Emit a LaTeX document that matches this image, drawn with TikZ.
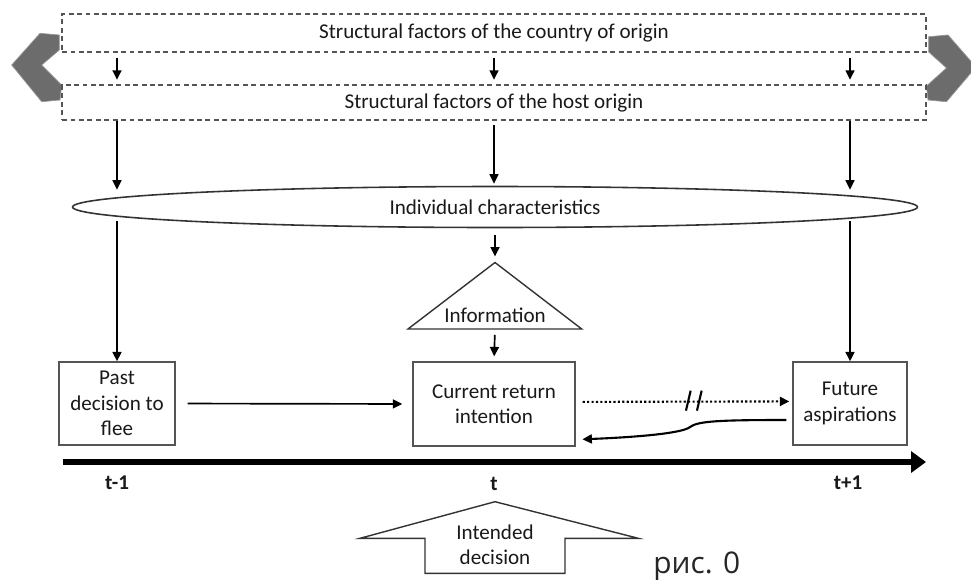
\documentclass[tikz,border=0pt]{standalone}
\usepackage{fontspec}
\setmainfont{Carlito}
\newfontfamily\rusfont{Open Sans}
\usepackage{xcolor}
\definecolor{edge}{RGB}{85,85,85}
\definecolor{chevgray}{RGB}{108,108,108}
\definecolor{ink}{RGB}{25,25,25}
\usetikzlibrary{shapes.geometric,arrows.meta,positioning,calc}
\tikzset{
  fc_frame/.style={rectangle,draw=edge,line width=0.75pt,dash pattern=on 2.8pt off 2pt,
    minimum width=17.28cm,inner sep=0pt,text=ink,font=\fontsize{12}{14.4}\selectfont},
  fc_box/.style={rectangle,draw=edge,line width=0.8pt,align=center,inner sep=2pt,
    text=ink,font=\fontsize{12}{14.4}\selectfont},
  fc_ell/.style={ellipse,draw=black!80,line width=0.9pt,minimum width=16.9cm,
    minimum height=0.82cm,inner sep=0pt,text=ink,font=\fontsize{12}{14.4}\selectfont},
  fc_tick/.style={inner sep=1pt,text=ink,font=\fontsize{12}{14.4}\selectfont\bfseries},
  fc_shape/.style={draw=black!80,line width=0.8pt,fill=white},
  chev/.style={fill=chevgray,draw=chevgray!70,line width=0.4pt},
  arr/.style={-{Triangle[length=1.9mm,width=1.8mm]},line width=0.95pt,draw=black},
  arr_dot/.style={arr,line width=1.2pt,dash pattern=on 1.2pt off 1.3pt},
  timeline/.style={-{Triangle[length=3mm,width=4.2mm]},line width=3.4pt,draw=black},
}

\begin{document}
\begin{tikzpicture}[x=0.02cm,y=-0.02cm]
  \useasboundingbox (0,0) rectangle (971,579);
  % side chevrons
  \filldraw[chev] (11.7,65) -- (40,33.3) -- (59.3,35) -- (59.3,50) -- (41.7,65)
    -- (61.7,85) -- (60,100) -- (41.7,101.7) -- cycle;
  \filldraw[chev] (976,67) -- (948,35) -- (928.7,36.7) -- (928.7,52) -- (946.5,68)
    -- (926.5,86) -- (928,100) -- (946.5,101.7) -- cycle;
  \node (orig) [fc_frame,minimum height=0.76cm] at (494,33)
    {Structural factors of the country of origin};
  \node (host) [fc_frame,minimum height=0.70cm] at (494,102.5)
    {Structural factors of the host origin};
  \node (indiv) [fc_ell] at (495,207) {Individual characteristics};
  \draw[fc_shape] (408,329) -- (495,262.5) -- (581.7,329) -- cycle;
  \coordinate (infotop) at (495,262.5);
  \coordinate (infobase) at (495,329);
  \node (info) [inner sep=1pt,text=ink,font=\fontsize{12}{14.4}\selectfont] at (495,315) {Information};
  \node (past) [fc_box,minimum width=2.32cm,minimum height=1.66cm] at (117,403.5)
    {Past\\decision to\\flee};
  \node (curr) [fc_box,minimum width=3.24cm,minimum height=1.68cm] at (494,404)
    {Current return\\intention};
  \node (fut) [fc_box,minimum width=2.28cm,minimum height=1.66cm] at (850,403.5)
    {Future\\aspirations};
  \coordinate (tl0) at (63,462);
  \coordinate (tl1) at (926,462);
  \node (tprev) [fc_tick] at (117,483) {t-1};
  \node (tnow) [fc_tick] at (494,484) {t};
  \node (tnext) [fc_tick] at (848,483) {t+1};
  \draw[fc_shape] (425,573.3) -- (425,538.3) -- (360,538.3) -- (495,501.7)
    -- (638.3,538.3) -- (565,538.3) -- (565,573.3) -- cycle;
  \node (intent) [align=center,inner sep=1pt,text=ink,font=\fontsize{12}{14.4}\selectfont]
    at (495,544.5) {Intended\\decision};
  \node (fig) [anchor=base west,inner sep=0pt,text=black!85,font=\rusfont\fontsize{17}{20}\selectfont]
    at (653,573) {рис. 0};
  \foreach \n in {past,curr,fut}
    \draw[arr,shorten <=3pt,shorten >=2.6pt] (\n.north |- orig.south) -- (\n.north |- host.north);
  \draw[arr] (past.north |- host.south) -- ($(past.north |- indiv.north)+(0,4)$);
  \draw[arr,shorten <=2.5pt] (curr.north |- host.south) -- ($(curr.north |- indiv.north)+(0,-2)$);
  \draw[arr] (fut.north |- host.south) -- ($(fut.north |- indiv.north)+(0,4)$);
  \draw[arr] ($(past.north |- indiv.south)+(0,-7)$) -- (past.north);
  \draw[arr] ($(fut.north |- indiv.south)+(0,-7)$) -- (fut.north);
  \draw[arr,shorten <=4pt,shorten >=3.4pt] (indiv.south) -- (infotop);
  \draw[arr,shorten <=3.4pt,shorten >=2.8pt] (infobase) -- (curr.north);
  \draw[arr,shorten <=6.8pt,shorten >=5.7pt] (past.east) -- (curr.west);
  \draw[arr_dot,shorten <=4pt,shorten >=1.7pt] ([yshift=1.2pt]curr.east) -- ([yshift=1.2pt]fut.west)
    coordinate[pos=0.546] (brk);
  \draw[line width=1.2pt] ($(brk)+(-3.3,-11)$) -- ($(brk)+(-8,9)$);
  \draw[line width=1.2pt] ($(brk)+(7.7,-11)$) -- ($(brk)+(3,9)$);
  \draw[arr,line width=1.2pt] ($(fut.west)+(-6,16.5)$) .. controls (720,420) and (698,421) .. (690,427)
    .. controls (683,433) and (640,437) .. ($(curr.east)+(6.7,35.3)$);
  \draw[timeline] (tl0) -- (tl1);
\end{tikzpicture}
\end{document}
